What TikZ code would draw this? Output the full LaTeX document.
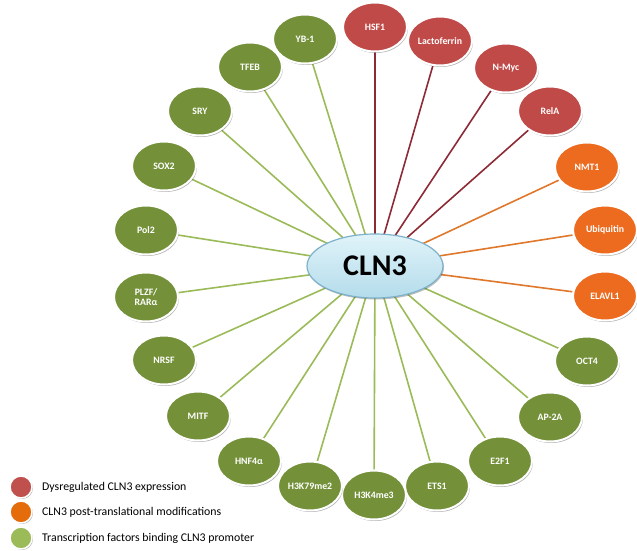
\documentclass[tikz,border=0pt]{standalone}
\usepackage{fontspec}
\setmainfont{Carlito}
\usetikzlibrary{shapes.geometric,shadows,backgrounds}
\definecolor{nred}{HTML}{BF4A48}
\definecolor{nora}{HTML}{EC6B1F}
\definecolor{ngrn}{HTML}{74913A}
\definecolor{lred}{HTML}{8C2A35}
\definecolor{lora}{HTML}{E0782C}
\definecolor{lgrn}{HTML}{9BBB59}
\definecolor{legred}{HTML}{C0504D}
\definecolor{legora}{HTML}{E46C0A}
\definecolor{leggrn}{HTML}{9BBB59}
\definecolor{ctop}{HTML}{E0F3F9}
\definecolor{cbot}{HTML}{B4DCEB}
\definecolor{cbrd}{HTML}{7DB2CA}
\begin{document}
\begin{tikzpicture}[x=1pt,y=-1pt,
  bub/.style={ellipse, minimum width=64pt, minimum height=49pt, inner sep=0pt,
    draw=white, line width=2pt, text=white, align=center,
    font=\bfseries\fontsize{9.8}{10.8}\selectfont,
    drop shadow={shadow xshift=1pt,shadow yshift=-1.5pt,fill=black,opacity=0.3}},
  rb/.style={bub, fill=nred},
  ob/.style={bub, fill=nora},
  gb/.style={bub, fill=ngrn},
  rl/.style={draw=lred, line width=1.6pt},
  ol/.style={draw=lora, line width=1.6pt},
  gl/.style={draw=lgrn, line width=1.6pt},
  legdot/.style={circle, minimum size=22pt, inner sep=0pt, draw=white, line width=1.5pt,
    drop shadow={shadow xshift=1pt,shadow yshift=-1pt,fill=black,opacity=0.3}},
  legtxt/.style={anchor=west, inner sep=0pt, font=\fontsize{11.8}{13}\selectfont}]
\useasboundingbox (0,0) rectangle (637,551);

\node[ellipse, minimum width=136pt, minimum height=64pt, inner sep=0pt,
  top color=ctop, bottom color=cbot, draw=cbrd, line width=1.2pt,
  font=\bfseries\fontsize{30}{32}\selectfont,
  drop shadow={shadow xshift=1pt,shadow yshift=-1.5pt,fill=black,opacity=0.25}] (c) at (375,266) {CLN3};

\node[rb] (hsf) at (375,27) {HSF1};
\node[rb] (lac) at (440,41) {Lactoferrin};
\node[rb] (nmyc) at (506,68) {N-Myc};
\node[rb] (rela) at (550,111) {RelA};
\node[ob] (nmt) at (587,167) {NMT1};
\node[ob] (ubi) at (605,230) {Ubiquitin};
\node[ob] (elav) at (605,296) {ELAVL1};
\node[gb] (oct) at (587,361) {OCT4};
\node[gb] (ap) at (550,417) {AP-2A};
\node[gb] (e2f) at (500,461) {E2F1};
\node[gb] (ets) at (437,486) {ETS1};
\node[gb] (h3k4) at (374,495) {H3K4me3};
\node[gb] (h3k79) at (310,486) {H3K79me2};
\node[gb] (hnf) at (249,461) {HNF4α};
\node[gb] (mitf) at (198,416) {MITF};
\node[gb] (nrsf) at (164,360) {NRSF};
\node[gb] (plzf) at (146,297) {PLZF/\\RARα};
\node[gb] (pol) at (146,230) {Pol2};
\node[gb] (sox) at (164,166) {SOX2};
\node[gb] (sry) at (200,111) {SRY};
\node[gb] (tfeb) at (250,67) {TFEB};
\node[gb] (yb) at (305,39) {YB-1};

\begin{scope}[on background layer]
\foreach \n in {hsf,lac,nmyc,rela} \draw[rl] (c.center) -- (\n);
\foreach \n in {nmt,ubi,elav} \draw[ol] (c.center) -- (\n);
\foreach \n in {oct,ap,e2f,ets,h3k4,h3k79,hnf,mitf,nrsf,plzf,pol,sox,sry,tfeb,yb} \draw[gl] (c.center) -- (\n);
\end{scope}

\node[legdot, fill=legred] (d1) at (21,487) {};
\node[legdot, fill=legora] (d2) at (21,512) {};
\node[legdot, fill=leggrn] (d3) at (21,538) {};
\node[legtxt] (t1) at (42,487) {Dysregulated CLN3 expression};
\node[legtxt] (t2) at (42,512) {CLN3 post-translational modifications};
\node[legtxt] (t3) at (42,538) {Transcription factors binding CLN3 promoter};
\end{tikzpicture}
\end{document}
